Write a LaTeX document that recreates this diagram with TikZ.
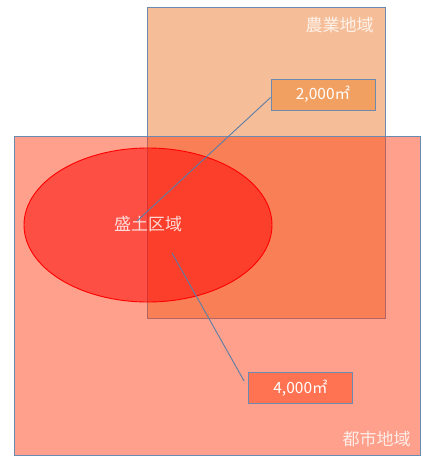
\documentclass[tikz,border=0pt]{standalone}
\usepackage{fontspec}
\setmainfont{Noto Sans CJK JP}
\usetikzlibrary{shapes.geometric, positioning}

\definecolor{edgeblue}{HTML}{6A8BAF}
\definecolor{lineblue}{HTML}{5A7EA8}
\definecolor{agrifill}{HTML}{ED7D31}
\definecolor{urbanfill}{HTML}{FD4117}
\definecolor{boxagri}{HTML}{F2A062}
\definecolor{boxurban}{HTML}{FF7352}

\tikzset{
  region/.style={draw=edgeblue, line width=0.9pt, fill opacity=0.5, text opacity=1, inner sep=0pt, anchor=north west},
  areabox/.style={draw=edgeblue, line width=0.9pt, minimum width=104pt, minimum height=31pt, inner sep=0pt, text=white, font=\fontsize{15.5}{18}\selectfont},
  lbl/.style={text=white, text opacity=0.8, inner sep=0pt, font=\fontsize{17}{20}\selectfont}
}

\begin{document}
\begin{tikzpicture}[x=1pt, y=-1pt]
        \useasboundingbox (0,0) rectangle (423,459);

        \node[region, fill=agrifill, minimum width=238pt, minimum height=311pt]  (agri)  at (147,7)  {};
        \node[region, fill=urbanfill, minimum width=406pt, minimum height=319pt] (urban) at (14,136) {};
        \node[ellipse, draw=red, line width=0.9pt, fill=red, fill opacity=0.5, text opacity=1,
              minimum width=248pt, minimum height=154pt, inner sep=0pt] (fill) at (148,225) {};

        \node[lbl] (agri_lbl)  [below left=10pt and 12pt of agri.north east]  {農業地域};
        \node[lbl] (urban_lbl) [above left=9pt and 10pt of urban.south east]  {都市地域};
        \node[lbl] (fill_lbl)  at (148,224)                                   {盛土区域};

        \node[areabox, fill=boxagri]  (area_agri)  at (323,94.5) {2,000㎡};
        \node[areabox, fill=boxurban] (area_urban) at (300.5,388) {4,000㎡};

        \coordinate (tip_agri)  at (137,221);
        \coordinate (tip_urban) at (172,253);

        \draw[lineblue, line width=0.9pt] (tip_agri) -- ([yshift=-3pt]area_agri.west);
        \draw[lineblue, line width=0.9pt, shorten >=8pt] (tip_urban) -- (area_urban.west);
    \end{tikzpicture}
\end{document}
